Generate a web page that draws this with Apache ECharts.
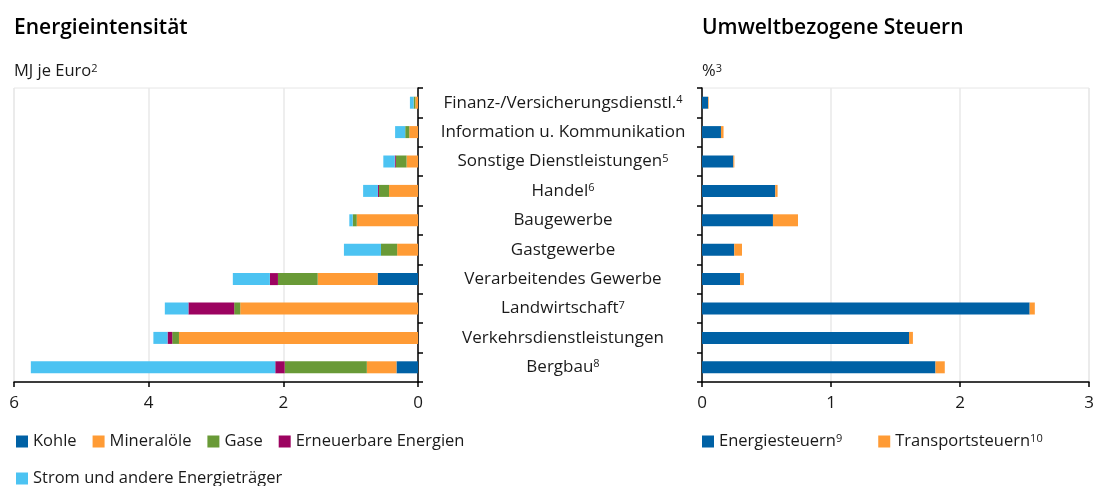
<!DOCTYPE html>
<html>
<head>
<meta charset="utf-8">
<script src="https://cdn.jsdelivr.net/npm/echarts@6/dist/echarts.min.js"></script>
<style>
  html, body { margin: 0; padding: 0; background: #fff; }
  #main { width: 1097px; height: 486px; }
</style>
</head>
<body>
<div id="main"></div>
<script>
// Kategorien (von oben nach unten) und Fußnoten
var categories = ['Finanz-/Versicherungsdienstl.', 'Information u. Kommunikation', 'Sonstige Dienstleistungen',
  'Handel', 'Baugewerbe', 'Gastgewerbe', 'Verarbeitendes Gewerbe', 'Landwirtschaft',
  'Verkehrsdienstleistungen', 'Bergbau'];
var fussnoten = ['4', '', '5', '6', '', '', '', '7', '', '8'];

// Energieintensität, MJ je Euro
var kohle       = [0, 0, 0, 0, 0, 0, 0.60, 0, 0, 0.32];
var mineraloele = [0.04, 0.13, 0.17, 0.43, 0.91, 0.31, 0.89, 2.64, 3.55, 0.44];
var gase        = [0.025, 0.06, 0.16, 0.15, 0.06, 0.24, 0.59, 0.09, 0.10, 1.22];
var erneuerbare = [0, 0, 0.015, 0.015, 0, 0, 0.12, 0.68, 0.07, 0.14];
var strom       = [0.055, 0.15, 0.17, 0.22, 0.05, 0.55, 0.55, 0.35, 0.21, 3.63];

// Umweltbezogene Steuern, %
var energiesteuern   = [0.047, 0.147, 0.243, 0.568, 0.55, 0.25, 0.295, 2.54, 1.605, 1.81];
var transportsteuern = [0.005, 0.02, 0.008, 0.018, 0.194, 0.06, 0.03, 0.04, 0.03, 0.072];

var leftTicks = [0, 2, 4, 6];
var rightTicks = [0, 1, 2, 3];
var legendNoten = { 'Energiesteuern': '9', 'Transportsteuern': '10' };

var FONT = 'Open Sans';
var TXT = '#1a1a1a';
var farben = {
  kohle: '#0061a5', mineral: '#ff9b35', gase: '#699a37', erneuerbar: '#9c0360', strom: '#4cc3f2'
};
var sup = { fontSize: 11, verticalAlign: 'top', color: TXT, fontFamily: FONT };

var chart = echarts.init(document.getElementById('main'));

function bar(name, data, color, x, y, stack) {
  return {
    name: name, type: 'bar', stack: stack, data: data,
    xAxisIndex: x, yAxisIndex: y, barWidth: 12,
    itemStyle: { color: color },
    emphasis: { disabled: true }
  };
}

function legende(names, left, top, gap) {
  return {
    data: names, left: left, top: top, padding: 0,
    icon: 'rect', itemWidth: 12, itemHeight: 12, itemGap: gap,
    formatter: function (n) { return legendNoten[n] ? n + '{s|' + legendNoten[n] + '}' : n; },
    textStyle: { fontSize: 16.5, color: TXT, fontFamily: FONT, rich: { s: sup } }
  };
}

var titelStil = { fontSize: 21, fontWeight: 600, color: '#000', fontFamily: FONT };
var einheitStil = { fontSize: 16.5, fontWeight: 'normal', color: TXT, fontFamily: FONT, rich: { s: sup } };

var option = {
  animation: false,
  textStyle: { fontFamily: FONT },
  title: [
    { text: 'Energieintensität', left: 14, top: 18, padding: 0, textStyle: titelStil },
    { text: 'MJ je Euro{s|2}', left: 14, top: 63, padding: 0, textStyle: einheitStil },
    { text: 'Umweltbezogene Steuern', left: 702, top: 18, padding: 0, textStyle: titelStil },
    { text: '%{s|3}', left: 702, top: 63, padding: 0, textStyle: einheitStil }
  ],
  legend: [
    legende(['Kohle', 'Mineralöle', 'Gase', 'Erneuerbare Energien'], 16, 433, 16),
    legende(['Strom und andere Energieträger'], 16, 470, 16),
    legende(['Energiesteuern', 'Transportsteuern'], 702, 433, 36)
  ],
  grid: [
    { left: 14, width: 404, top: 88, height: 294, show: true, borderColor: '#e6e6e6', borderWidth: 1 },
    { left: 702, width: 387, top: 88, height: 294, show: true, borderColor: '#e6e6e6', borderWidth: 1 }
  ],
  xAxis: [
    {
      gridIndex: 0, type: 'value', inverse: true, min: 0, max: 6, interval: 2,
      axisLine: { show: true, lineStyle: { color: '#000', width: 1.5 } },
      axisTick: { show: true, length: 5, lineStyle: { color: '#000', width: 1.5 } },
      axisLabel: { fontSize: 17, color: TXT, margin: 13,
        formatter: function (v) { return leftTicks.indexOf(v) >= 0 ? String(v) : ''; } },
      splitLine: { show: true, lineStyle: { color: '#e8e8e8', width: 1.5 } }
    },
    {
      gridIndex: 1, type: 'value', min: 0, max: 3, interval: 1,
      axisLine: { show: true, lineStyle: { color: '#000', width: 1.5 } },
      axisTick: { show: true, length: 5, lineStyle: { color: '#000', width: 1.5 } },
      axisLabel: { fontSize: 17, color: TXT, margin: 13,
        formatter: function (v) { return rightTicks.indexOf(v) >= 0 ? String(v) : ''; } },
      splitLine: { show: true, lineStyle: { color: '#e8e8e8', width: 1.5 } }
    }
  ],
  yAxis: [
    {
      gridIndex: 0, type: 'category', data: categories, inverse: true, position: 'right',
      axisLine: { show: true, lineStyle: { color: '#000', width: 1.5 } },
      axisTick: { show: true, length: 5, lineStyle: { color: '#000', width: 1.5 } },
      axisLabel: {
        fontSize: 17, color: TXT, align: 'center', margin: 145, fontFamily: FONT,
        formatter: function (v, i) { return fussnoten[i] ? v + '{s|' + fussnoten[i] + '}' : v; },
        rich: { s: sup }
      },
      splitLine: { show: false }
    },
    {
      gridIndex: 1, type: 'category', data: categories, inverse: true,
      axisLine: { show: true, lineStyle: { color: '#000', width: 1.5 } },
      axisTick: { show: true, length: 5, lineStyle: { color: '#000', width: 1.5 } },
      axisLabel: { show: false },
      splitLine: { show: false }
    }
  ],
  series: [
    bar('Kohle', kohle, farben.kohle, 0, 0, 'links'),
    bar('Mineralöle', mineraloele, farben.mineral, 0, 0, 'links'),
    bar('Gase', gase, farben.gase, 0, 0, 'links'),
    bar('Erneuerbare Energien', erneuerbare, farben.erneuerbar, 0, 0, 'links'),
    bar('Strom und andere Energieträger', strom, farben.strom, 0, 0, 'links'),
    bar('Energiesteuern', energiesteuern, farben.kohle, 1, 1, 'rechts'),
    bar('Transportsteuern', transportsteuern, farben.mineral, 1, 1, 'rechts')
  ]
};

chart.setOption(option);
</script>
</body>
</html>
